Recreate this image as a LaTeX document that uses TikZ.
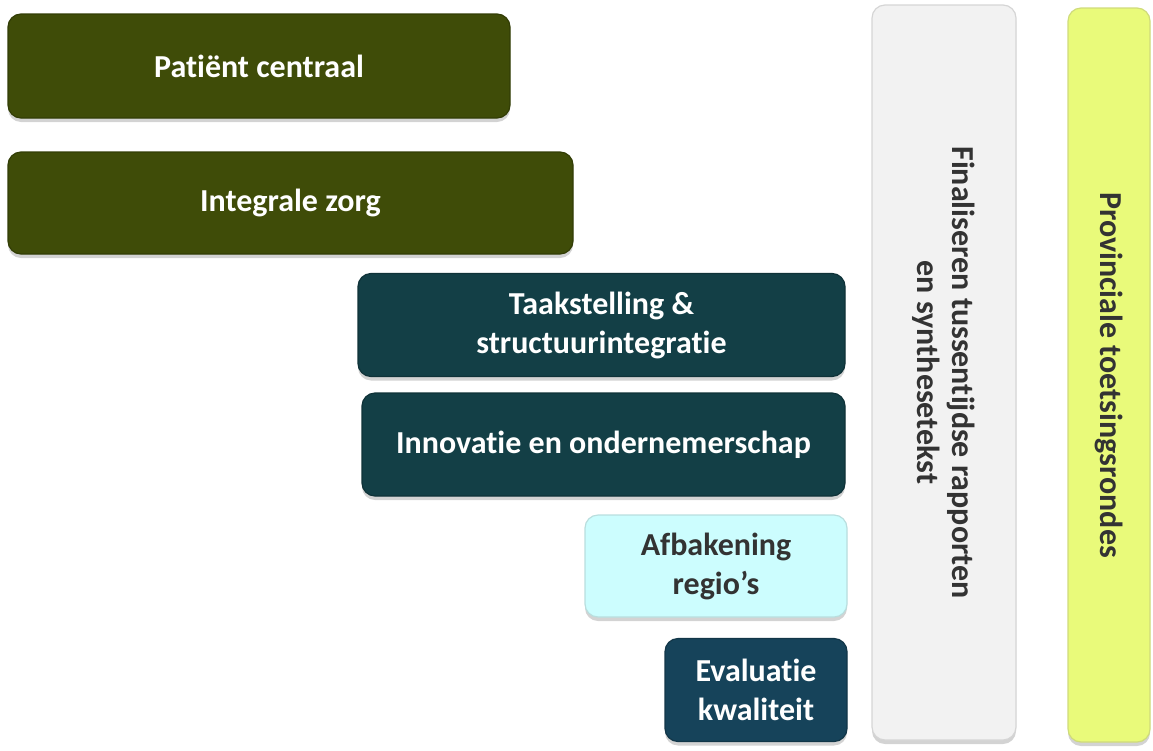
\documentclass[tikz,border=0pt]{standalone}
\usepackage{fontspec}
\setmainfont[Ligatures=NoCommon]{Carlito}
\usetikzlibrary{shadows}
\definecolor{olijf}{HTML}{3F4C08}
\definecolor{petrol}{HTML}{133F46}
\definecolor{nachtblauw}{HTML}{16435A}
\definecolor{ijsblauw}{HTML}{CCFDFE}
\definecolor{lichtgrijs}{HTML}{F2F2F2}
\definecolor{citroen}{HTML}{E9FA7A}
\definecolor{tekstgrijs}{HTML}{333333}
\begin{document}
\begin{tikzpicture}[x=1pt,y=-1pt,
  blok/.style={rounded corners=13pt,inner sep=0pt,align=center,
    font=\fontsize{32}{39}\selectfont\bfseries,
    drop shadow={opacity=0.35,shadow xshift=0pt,shadow yshift=-4pt}},
  donker/.style={blok,text=white,fill=#1,draw=#1!80!black,line width=1.2pt},
  licht/.style={blok,text=tekstgrijs,fill=#1,draw=#1!75!gray,line width=1.2pt}]
\useasboundingbox (0,0) rectangle (1153,750);
\node[donker=olijf,minimum width=502pt,minimum height=104pt] (patient) at (259,66) {Patiënt centraal};
\node[donker=olijf,minimum width=565pt,minimum height=102pt] (integraal) at (290.5,203) {Integrale zorg};
\node[donker=petrol,minimum width=487pt,minimum height=103pt] (taak) at (601.5,325) {Taakstelling \&\\structuurintegratie};
\node[donker=petrol,minimum width=483pt,minimum height=103pt] (innovatie) at (603.5,444.5) {Innovatie en ondernemerschap};
\node[licht=ijsblauw,minimum width=262pt,minimum height=102pt] (regio) at (716,566) {Afbakening\\regio’s};
\node[donker=nachtblauw,minimum width=182pt,minimum height=103pt] (evaluatie) at (756,690) {Evaluatie\\kwaliteit};
\node[licht=lichtgrijs,rotate=-90,minimum width=735pt,minimum height=144pt,
  font=\fontsize{32}{35}\selectfont\bfseries] (synthese) at (944,372.5) {Finaliseren tussentijdse rapporten\\en synthesetekst};
\node[licht=citroen,rotate=-90,minimum width=734pt,minimum height=82pt] (toetsing) at (1109,375) {Provinciale toetsingsrondes};
\end{tikzpicture}
\end{document}
